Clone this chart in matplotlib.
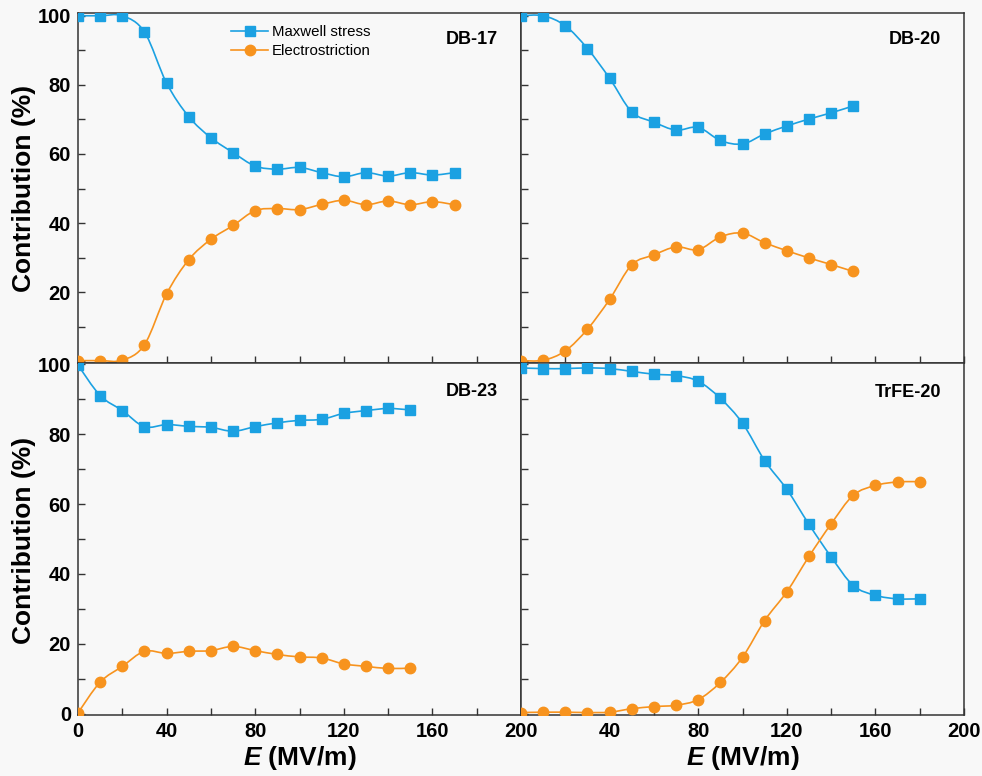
import numpy as np
import matplotlib
matplotlib.use('Agg')
from matplotlib import pyplot as plt
from matplotlib.path import Path
from matplotlib.patches import PathPatch
from matplotlib.lines import Line2D
from matplotlib.ticker import MultipleLocator

plt.rcParams['font.family'] = ['Liberation Sans', 'DejaVu Sans']
plt.rcParams['mathtext.fontset'] = 'custom'
plt.rcParams['mathtext.it'] = 'Liberation Sans:italic:bold'
plt.rcParams['mathtext.rm'] = 'Liberation Sans:bold'

BLUE = '#1BA1E2'
ORANGE = '#F7931E'
BG = '#F8F8F8'

# ---- data ----
E_db17 = [0, 10, 20, 30, 40, 50, 60, 70, 80, 90, 100, 110, 120, 130, 140, 150, 160, 170]
maxwell_db17 = [100, 100, 100, 95.3, 80.5, 70.8, 64.7, 60.4, 56.5, 55.6, 56.1, 54.6, 53.4, 54.6, 53.6, 54.6, 53.9, 54.6]
electro_db17 = [0.2, 0.2, 0.3, 4.8, 19.5, 29.4, 35.3, 39.3, 43.6, 44.2, 43.9, 45.4, 46.6, 45.3, 46.4, 45.3, 46.2, 45.3]

E_db20 = [0, 10, 20, 30, 40, 50, 60, 70, 80, 90, 100, 110, 120, 130, 140, 150]
maxwell_db20 = [100, 100, 97.1, 90.5, 81.9, 72.2, 69.2, 66.9, 67.7, 63.9, 62.9, 65.8, 68.1, 70.1, 71.9, 73.9]
electro_db20 = [0.2, 0.3, 3.0, 9.3, 17.9, 27.9, 30.8, 33.1, 32.3, 36.0, 37.1, 34.3, 32.0, 29.9, 28.0, 26.0]

E_db23 = [0, 10, 20, 30, 40, 50, 60, 70, 80, 90, 100, 110, 120, 130, 140, 150]
maxwell_db23 = [99.7, 91.0, 86.7, 82.1, 82.7, 82.2, 81.9, 80.8, 82.1, 83.2, 83.9, 84.2, 85.9, 86.7, 87.3, 86.9]
electro_db23 = [0.3, 9.1, 13.6, 17.9, 17.3, 17.9, 18.1, 19.3, 18.1, 17.0, 16.3, 16.0, 14.3, 13.6, 13.0, 13.1]

E_trfe20 = [0, 10, 20, 30, 40, 50, 60, 70, 80, 90, 100, 110, 120, 130, 140, 150, 160, 170, 180]
maxwell_trfe20 = [98.9, 98.7, 98.7, 98.9, 98.7, 97.9, 97.1, 96.7, 95.1, 90.2, 83.1, 72.4, 64.2, 54.2, 44.9, 36.7, 33.9, 32.9, 32.9]
electro_trfe20 = [0.4, 0.5, 0.5, 0.4, 0.5, 1.5, 2.1, 2.5, 4.1, 9.0, 16.2, 26.7, 34.9, 45.0, 54.3, 62.5, 65.3, 66.3, 66.4]

panel_names = ['DB-17', 'DB-20', 'DB-23', 'TrFE-20']


def smooth_line(ax, x, y, color):
    # catmull-rom segments drawn as bezier curves
    n = len(x)
    verts = [(x[0], y[0])]
    codes = [Path.MOVETO]
    for i in range(n - 1):
        a = max(i - 1, 0)
        d = min(i + 2, n - 1)
        c1 = (x[i] + (x[i + 1] - x[a]) / 6.0, y[i] + (y[i + 1] - y[a]) / 6.0)
        c2 = (x[i + 1] - (x[d] - x[i]) / 6.0, y[i + 1] - (y[d] - y[i]) / 6.0)
        verts += [c1, c2, (x[i + 1], y[i + 1])]
        codes += [Path.CURVE4] * 3
    ax.add_patch(PathPatch(Path(verts, codes), fill=False, edgecolor=color, lw=1.2, zorder=2))


def draw_panel(ax, x, blue, orange, name, ty):
    smooth_line(ax, x, blue, BLUE)
    smooth_line(ax, x, orange, ORANGE)
    ax.plot(x, blue, ls='none', marker='s', ms=7, color=BLUE, zorder=3)
    ax.plot(x, orange, ls='none', marker='o', ms=7.5, color=ORANGE, zorder=3)
    ax.text(0.948, ty, name, transform=ax.transAxes, ha='right', va='center',
            fontsize=13, fontweight='bold')


fig = plt.figure(figsize=(9.82, 7.76), dpi=100, facecolor=BG)
W = 443 / 982
x0 = 78 / 982
ax1 = fig.add_axes([x0, 1 - 363 / 776, W, 350 / 776])
ax2 = fig.add_axes([x0 + W, 1 - 363 / 776, W, 350 / 776])
ax3 = fig.add_axes([x0, 1 - 715 / 776, W, 352 / 776])
ax4 = fig.add_axes([x0 + W, 1 - 715 / 776, W, 352 / 776])

draw_panel(ax1, E_db17, maxwell_db17, electro_db17, panel_names[0], 0.923)
draw_panel(ax2, E_db20, maxwell_db20, electro_db20, panel_names[1], 0.923)
draw_panel(ax3, E_db23, maxwell_db23, electro_db23, panel_names[2], 0.92)
draw_panel(ax4, E_trfe20, maxwell_trfe20, electro_trfe20, panel_names[3], 0.915)

for ax in [ax1, ax2, ax3, ax4]:
    ax.set_facecolor(BG)
    ax.set_xlim(0, 200)
    ax.xaxis.set_major_locator(MultipleLocator(40))
    ax.xaxis.set_minor_locator(MultipleLocator(20))
    ax.yaxis.set_major_locator(MultipleLocator(20))
    ax.yaxis.set_minor_locator(MultipleLocator(10))
    ax.tick_params(which='both', direction='in', length=5, width=1, color='#333333',
                   labelsize=14.5, pad=5)
    for lab in ax.get_xticklabels() + ax.get_yticklabels():
        lab.set_fontweight('bold')
    for s in ax.spines.values():
        s.set_color('#333333')
        s.set_linewidth(1.1)

for ax in [ax1, ax2]:
    ax.set_ylim(-0.5, 100.8)
    ax.tick_params(labelbottom=False)
for ax in [ax3, ax4]:
    ax.set_ylim(-0.3, 100.3)
    ax.set_xlabel(r'$\mathit{E}$ (MV/m)', fontsize=19, fontweight='bold', labelpad=2)
for ax in [ax2, ax4]:
    ax.tick_params(labelleft=False)

ax1.set_yticks([20, 40, 60, 80, 100])
ax4.set_xticks([40, 80, 120, 160, 200])
for ax in [ax1, ax3, ax4]:
    for lab in ax.get_xticklabels() + ax.get_yticklabels():
        lab.set_fontweight('bold')

fig.text(24 / 982, 1 - 188 / 776, 'Contribution (%)', rotation=90, ha='center', va='center',
         fontsize=19, fontweight='bold')
fig.text(24 / 982, 1 - 540 / 776, 'Contribution (%)', rotation=90, ha='center', va='center',
         fontsize=19, fontweight='bold')

handles = [Line2D([], [], color=BLUE, marker='s', ms=7, lw=1.2),
           Line2D([], [], color=ORANGE, marker='o', ms=7.5, lw=1.2)]
ax1.legend(handles, ['Maxwell stress', 'Electrostriction'], loc='upper left',
           bbox_to_anchor=(0.345, 0.965), frameon=False, fontsize=10.8,
           handlelength=2.5, handletextpad=0.25, labelspacing=0.3,
           borderpad=0, borderaxespad=0)

fig.savefig('out.png', dpi=100, facecolor=BG)
